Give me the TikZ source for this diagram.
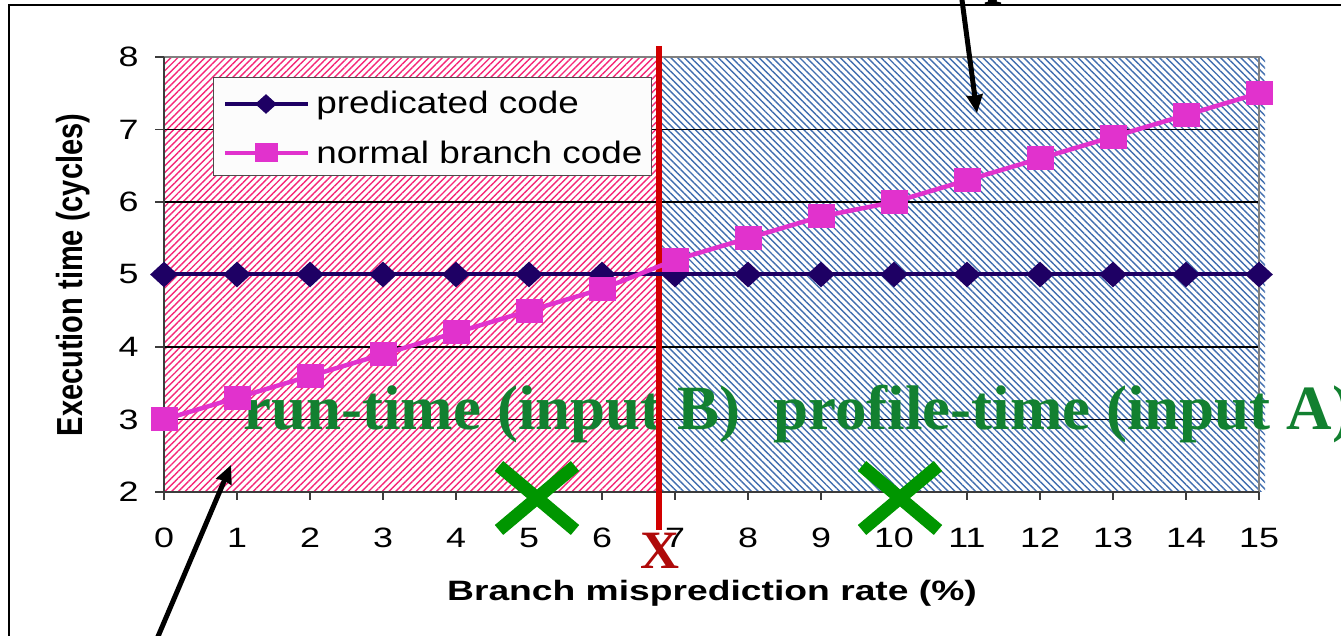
\documentclass[tikz,border=0pt]{standalone}
\usepackage{fontspec}
\setmainfont{Liberation Serif}
\setsansfont{Liberation Sans}
\usetikzlibrary{shapes.geometric,patterns.meta,arrows.meta}
\definecolor{navy}{RGB}{30,0,100}
\definecolor{mag}{RGB}{225,50,205}
\definecolor{redln}{RGB}{210,0,0}
\definecolor{xred}{RGB}{175,10,10}
\definecolor{gtext}{RGB}{18,128,48}
\definecolor{gcross}{RGB}{0,150,0}
\definecolor{hred}{RGB}{245,40,120}
\definecolor{hblue}{RGB}{65,110,175}
\definecolor{bordergray}{RGB}{128,128,128}
\definecolor{axgray}{RGB}{60,60,60}
\newcommand{\sx}[2][1.28]{\scalebox{#1}[1]{#2}}
\begin{document}
\begin{tikzpicture}[x=0.5pt,y=-0.5pt,
 navyline/.style={draw=navy,line width=2pt},
 magline/.style={draw=mag,line width=2.25pt},
 dmark/.style={diamond,fill=navy,inner sep=0pt,minimum width=14pt,minimum height=13pt},
 smark/.style={rectangle,fill=mag,inner sep=0pt,minimum width=13.5pt,minimum height=12pt},
 gridln/.style={draw=black,line width=0.6pt},
 axisln/.style={draw=axgray,line width=0.9pt},
 ticklabel/.style={font=\sffamily\fontsize{14}{14}\selectfont,inner sep=0pt},
 legtext/.style={font=\sffamily\fontsize{15.5}{15.5}\selectfont,inner sep=0pt,anchor=base west},
 bigtext/.style={font=\rmfamily\bfseries\fontsize{31.5}{31.5}\selectfont,inner sep=0pt,anchor=base west},
 bigarrow/.style={draw=black,line width=2.5pt,-{Stealth[length=9pt,width=8pt,inset=0.5pt]}},
 crossln/.style={draw=gcross,line width=6.5pt},
]
\useasboundingbox (0,0) rectangle (1341,636);
\clip (0,0) rectangle (1341,636);
\fill[white] (0,0) rectangle (1341,636);

% outer frame (partly cut off)
\draw[black,line width=0.75pt] (9,700) -- (9,5) -- (1400,5);

% partial text at the very top
\node[bigtext,text=black] (toptext) at (984,-8) {p};

% hatched regions
\fill[pattern={Lines[angle=45,distance=2.4pt,line width=0.7pt]},pattern color=hred] (164,57) rectangle (659,492);
\fill[pattern={Lines[angle=-45,distance=2.4pt,line width=0.7pt]},pattern color=hblue] (659,57) rectangle (1265,492);

% grid lines, y ticks and labels
\foreach \v in {2,...,8} {
  \pgfmathsetmacro\yy{492-72.5*(\v-2)}
  \ifnum\v>2 \ifnum\v<8 \draw[gridln] (164,\yy) -- (1259,\yy); \fi\fi
  \draw[axisln] (155,\yy) -- (164,\yy);
  \node[ticklabel,anchor=east] (yl\v) at (139,\yy) {\sx{\v}};
}
% plot border
\draw[draw=bordergray,line width=1.1pt] (164,57) -- (1259,57) -- (1259,492);
% axes
\draw[axisln] (164,57) -- (164,492) -- (1259,492);
\foreach \i in {0,...,15} {
  \pgfmathsetmacro\xx{164+73*\i}
  \draw[axisln] (\xx,492) -- (\xx,500);
  \node[ticklabel] (xl\i) at (\xx,538) {\sx{\i}};
}

% axis titles
\node[font=\sffamily\bfseries\fontsize{14}{14}\selectfont,inner sep=0pt] (xtitle) at (712,593) {\sx[1.33]{Branch misprediction rate (\%)}};
\node[font=\sffamily\bfseries\fontsize{14.5}{14.5}\selectfont,inner sep=0pt,rotate=90] (ytitle) at (73,275) {\scalebox{1}[1.25]{Execution time (cycles)}};

% big green texts
\node[bigtext,text=gtext] (runtime) at (243,430) {run-time (input B)};
\node[bigtext,text=gtext] (proftime) at (773,430) {profile-time (input A)};

% red separating line and X
\coordinate (rtop) at (659,46);
\coordinate (rbot) at (659,530);
\draw[draw=redln,line width=2.75pt] (rtop) -- (rbot);
\node[text=xred,font=\rmfamily\bfseries\fontsize{27}{27}\selectfont,inner sep=0pt] (xmark) at (660,551) {X};

% data series
\begin{scope}[shift={(164,492)},x=36.5pt,y=36.25pt]
  \foreach \i in {0,...,15} \coordinate (a\i) at (\i,3);
  \foreach \v [count=\i from 0] in {3.0,3.3,3.6,3.9,4.2,4.5,4.8,5.2,5.5,5.8,6.0,6.3,6.6,6.9,7.2,7.5}
    \coordinate (b\i) at (\i,{\v-2});
\end{scope}
\draw[navyline] (a0) \foreach \i in {1,...,15} {-- (a\i)};
\foreach \i in {0,...,15} \node[dmark] (ma\i) at (a\i) {};
\draw[magline] (b0) \foreach \i in {1,...,15} {-- (b\i)};
\foreach \i in {0,...,15} \node[smark] (mb\i) at (b\i) {};

% legend
\node[draw=gray!60!black,line width=0.5pt,fill=white!98!gray,minimum width=219pt,minimum height=49pt,anchor=north west,inner sep=0pt,outer sep=0pt] (legend) at (213,78) {};
\coordinate (l1a) at (225,104); \coordinate (l1b) at (308,104);
\draw[navyline] (l1a) -- (l1b);
\node[dmark,minimum width=11pt,minimum height=10pt] (lm1) at (266,104) {};
\node[legtext] (lt1) at (316,114) {\sx[1.19]{predicated code}};
\coordinate (l2a) at (225,153); \coordinate (l2b) at (308,153);
\draw[magline] (l2a) -- (l2b);
\node[smark,minimum width=11.5pt,minimum height=9.5pt] (lm2) at (266,153) {};
\node[legtext] (lt2) at (316,164) {\sx[1.19]{normal branch code}};

% green crosses
\coordinate (c1a) at (499,466); \coordinate (c1b) at (575,530);
\coordinate (c1c) at (575,466); \coordinate (c1d) at (499,530);
\draw[crossln] (c1a) -- (c1b);
\draw[crossln] (c1c) -- (c1d);
\coordinate (c2a) at (862,466); \coordinate (c2b) at (938,530);
\coordinate (c2c) at (938,466); \coordinate (c2d) at (862,530);
\draw[crossln] (c2a) -- (c2b);
\draw[crossln] (c2c) -- (c2d);

% arrows
\coordinate (ar1s) at (960,-15); \coordinate (ar1e) at (977,113);
\draw[bigarrow] (ar1s) -- (ar1e);
\coordinate (ar2s) at (148,660); \coordinate (ar2e) at (231,465);
\draw[bigarrow] (ar2s) -- (ar2e);
\end{tikzpicture}
\end{document}
